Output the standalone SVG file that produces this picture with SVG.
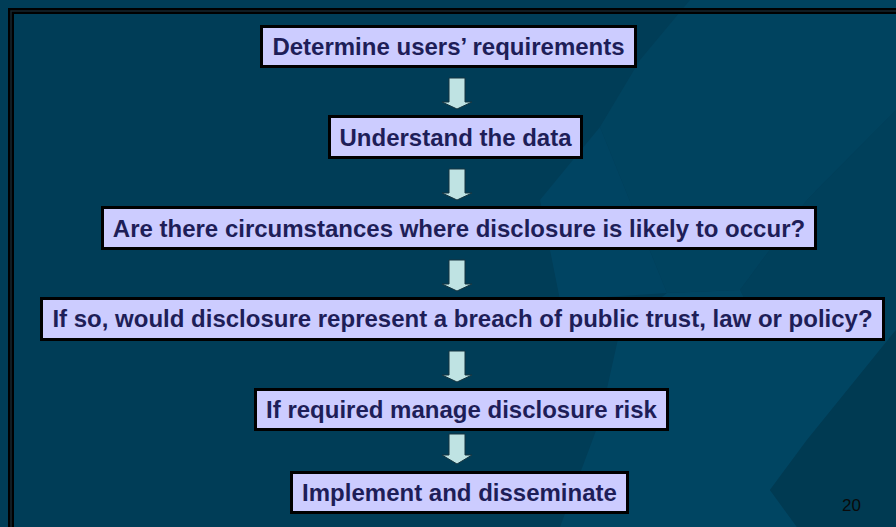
<svg xmlns="http://www.w3.org/2000/svg" width="896" height="527" viewBox="0 0 896 527">
  <defs>
    <style>
      .box { fill: #ccccff; stroke: #000000; stroke-width: 3; }
      .lbl { font-family: "Liberation Sans", Arial, sans-serif; font-weight: bold; font-size: 24px; fill: #1e1e58; text-anchor: middle; }
      .arr { fill: #bfe3e3; stroke: #163540; stroke-width: 1; }
      .pg { font-family: "Liberation Sans", Arial, sans-serif; font-size: 17px; fill: #0a0a0a; }
    </style>
    <path id="arrowShape" d="M -8 0 L 8 0 L 8 24 L 15 24 L 0 31 L -15 24 L -8 24 Z"/>
  </defs>

  <!-- background -->
  <rect x="0" y="0" width="896" height="527" fill="#003d57"/>
  <polygon points="690,0 896,0 896,110 807,200 740,290 667,293 600,127 640,60" fill="#00435f"/>
  <polygon points="600,127 667,293 560,300 540,200" fill="#004462"/>
  <polygon points="896,110 807,200 740,290 760,330 896,330" fill="#00405b"/>
  <polygon points="667,293 740,290 760,330 896,330 807,440 770,490 797,527 560,527 600,420 620,330" fill="#004562"/>
  <polygon points="807,440 896,330 896,527 797,527 770,490" fill="#003a52"/>

  <!-- frame -->
  <rect x="11" y="11" width="920" height="560" fill="none" stroke="#000000" stroke-width="6"/>
  <rect x="11" y="11" width="920" height="560" fill="none" stroke="#16262e" stroke-width="1.5"/>

  <g id="connectors">
    <use href="#arrowShape" class="arr" x="457" y="78"/>
    <use href="#arrowShape" class="arr" x="457" y="169"/>
    <use href="#arrowShape" class="arr" x="457" y="260"/>
    <use href="#arrowShape" class="arr" x="457" y="351"/>
    <path class="arr" d="M 449 434 L 465 434 L 465 455 L 472 455 L 457 464 L 442 455 L 449 455 Z"/>
  </g>

  <g id="node-requirements">
    <rect class="box" x="261.5" y="26.5" width="374" height="40"/>
    <text class="lbl" x="448.5" y="55">Determine users’ requirements</text>
  </g>
  <g id="node-data">
    <rect class="box" x="329.5" y="116.5" width="252" height="41"/>
    <text class="lbl" x="455.5" y="145.5">Understand the data</text>
  </g>
  <g id="node-circumstances">
    <rect class="box" x="102.5" y="207.5" width="713" height="41"/>
    <text class="lbl" x="459" y="236.5">Are there circumstances where disclosure is likely to occur?</text>
  </g>
  <g id="node-breach">
    <rect class="box" x="41.5" y="298.5" width="842" height="41"/>
    <text class="lbl" x="462.5" y="327">If so, would disclosure represent a breach of public trust, law or policy?</text>
  </g>
  <g id="node-manage">
    <rect class="box" x="255.5" y="389.5" width="412" height="40"/>
    <text class="lbl" x="461.5" y="418">If required manage disclosure risk</text>
  </g>
  <g id="node-implement">
    <rect class="box" x="291.5" y="472.5" width="336" height="40"/>
    <text class="lbl" x="459.5" y="501">Implement and disseminate</text>
  </g>

  <text class="pg" x="842" y="510.5">20</text>
</svg>
